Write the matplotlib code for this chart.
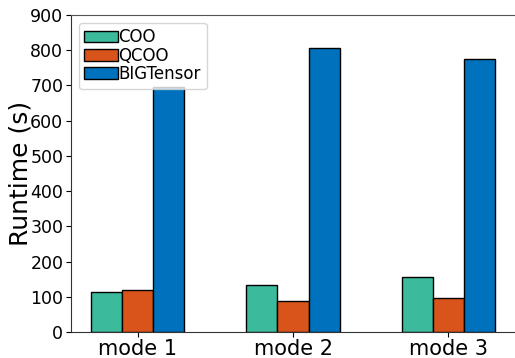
import numpy as np
import matplotlib
matplotlib.use('Agg')
import matplotlib.pyplot as plt

modes = ['mode 1', 'mode 2', 'mode 3']
coo = [114, 133, 156]
qcoo = [118, 89, 96]
bigtensor = [696, 806, 775]

series = [('COO', coo, '#3bba9c'),
          ('QCOO', qcoo, '#d9541a'),
          ('BIGTensor', bigtensor, '#0072bd')]

fig = plt.figure(figsize=(5.15, 3.58), dpi=100)
ax = fig.add_axes([71/515, 26/358, 1 - 71/515, 317/358])

x = np.arange(len(modes))
width = 0.2
for i, (name, vals, color) in enumerate(series):
    ax.bar(x + (i - 1) * width, vals, width, color=color, edgecolor='black',
           linewidth=1, label=name)

ax.set_xlim(-0.43, 2.43)
ax.set_ylim(0, 900)
ax.set_yticks(range(0, 901, 100))
ax.set_xticks(x)
ax.set_xticklabels(modes, fontsize=15)
ax.tick_params(axis='y', labelsize=12.5, pad=2)
ax.tick_params(axis='x', pad=1.5)
ax.set_ylabel('Runtime (s)', fontsize=18)
ax.yaxis.set_label_coords(-0.086, 0.5)
for s in ax.spines.values():
    s.set_color('#333333')
ax.spines['top'].set_color('#555555')
ax.spines['right'].set_visible(False)

ax.legend(loc='upper left', fontsize=12, handletextpad=0.05,
          labelspacing=0.02, borderpad=0.35, borderaxespad=0.45,
          bbox_to_anchor=(0.0, 1.0))

fig.savefig('out.png', dpi=100)
